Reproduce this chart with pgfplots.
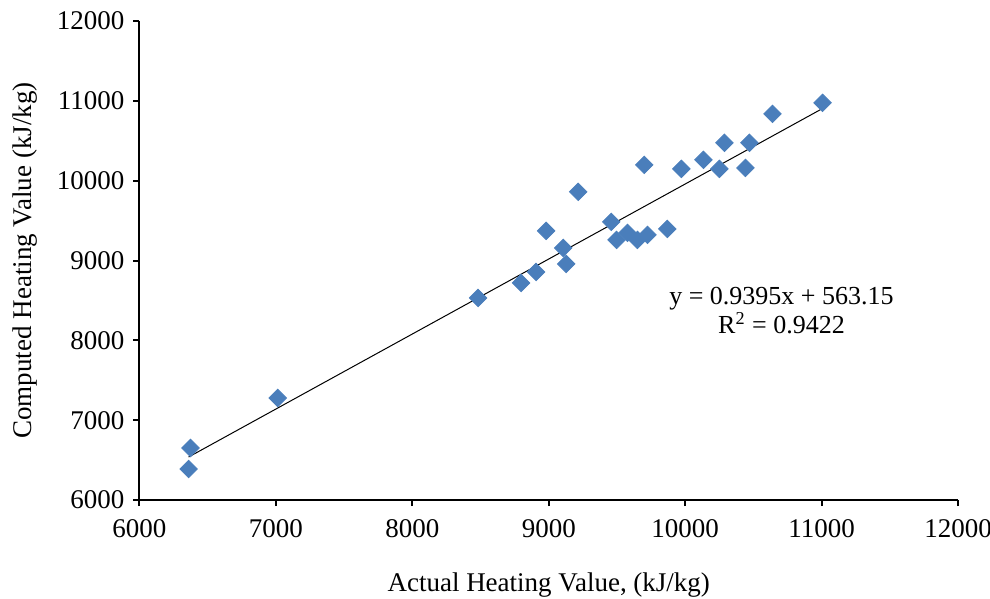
\documentclass[border=0pt]{standalone}
\usepackage{pgfplots}
\pgfplotsset{compat=1.18}
\usepackage{fontspec}
\setmainfont{Liberation Serif}
\definecolor{ptblue}{RGB}{74,126,187}
\begin{document}
\begin{tikzpicture}
\begin{axis}[
  at={(0,0)}, anchor=south west,
  scale only axis, width=409.25pt, height=239.5pt,
  xmin=6000, xmax=12000, ymin=6000, ymax=12000,
  xtick={6000,7000,...,12000}, ytick={6000,7000,...,12000},
  scaled ticks=false,
  axis lines*=left, axis line style={line width=1pt, black},
  tick align=outside, major tick length=3pt,
  tick style={line width=1pt, black},
  /pgf/number format/assume math mode=true,
  /pgf/number format/1000 sep={},
  ticklabel style={font=\fontsize{13.5}{16}\selectfont},
  xticklabel style={yshift=-3pt},
  yticklabel style={xshift=-1pt},
  xlabel={Actual Heating Value, (kJ/kg)},
  ylabel={Computed Heating Value (kJ/kg)},
  label style={font=\fontsize{13.5}{16}\selectfont},
  xlabel style={at={(axis description cs:0.5,-0.1775)}, anchor=center},
  ylabel style={at={(axis description cs:-0.14,0.5)}, anchor=center},
  clip=false,
]
\addplot[black, line width=0.5pt] coordinates {(6360,6538.4) (11007,10904.2)};
\addplot[only marks, mark=square*, mark size=3.1pt,
  mark options={rotate=45, fill=ptblue, draw=ptblue}] coordinates {
(6360,6388) (6374,6652) (7013,7278) (8482,8531) (8797,8719)
(8907,8857) (8981,9371) (9106,9158) (9128,8957) (9216,9860)
(9458,9484) (9497,9258) (9577,9346) (9650,9258) (9724,9321)
(9700,10198) (9869,9396) (9972,10148) (10134,10261) (10251,10148)
(10288,10474) (10471,10474) (10442,10160) (10640,10837) (11007,10975)
};
\node[align=center, font=\fontsize{13}{14.5}\selectfont] at (axis cs:10706,8375)
  {y = 0.9395x + 563.15\\R\textsuperscript{2} = 0.9422};
\end{axis}
\pgfresetboundingbox
\path (-69.75pt,-49.5pt) rectangle (425.25pt,250pt);
\end{tikzpicture}
\end{document}
